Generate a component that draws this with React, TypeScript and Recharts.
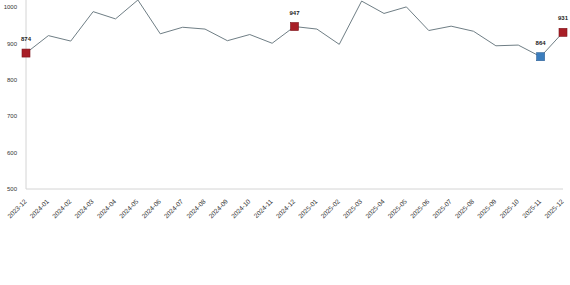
import React from 'react';
import { LineChart, Line, XAxis, YAxis } from 'recharts';

const months = [
  '2023-12', '2024-01', '2024-02', '2024-03', '2024-04', '2024-05', '2024-06',
  '2024-07', '2024-08', '2024-09', '2024-10', '2024-11', '2024-12', '2025-01',
  '2025-02', '2025-03', '2025-04', '2025-05', '2025-06', '2025-07', '2025-08',
  '2025-09', '2025-10', '2025-11', '2025-12',
];

const values = [
  874, 922, 907, 988, 968, 1020, 927, 945, 940, 908, 925, 901, 947, 940,
  898, 1017, 983, 1001, 936, 948, 934, 894, 896, 864, 931,
];

const yTicks = [500, 600, 700, 800, 900, 1000];

const redMarkers = ['2023-12', '2024-12', '2025-12'];
const blueMarkers = ['2025-11'];

const data = months.map((m, i) => ({ month: m, value: values[i] }));

const FONT = '"Liberation Sans", Arial, sans-serif';

const XTick = (props: any) => {
  const { x, y, payload } = props;
  return (
    <g transform={`translate(${x + 1},${y + 11})`}>
      <text
        x={0}
        y={0}
        textAnchor="end"
        fontSize={6.5}
        fill="#333"
        fontFamily={FONT}
        transform="rotate(-45)"
      >
        {payload.value}
      </text>
    </g>
  );
};

const renderDot = (props: any) => {
  const { cx, cy, payload, index } = props;
  const m = payload.month;
  let fill = '';
  let stroke = '';
  if (redMarkers.includes(m)) {
    fill = '#a81e26';
    stroke = '#7c1218';
  } else if (blueMarkers.includes(m)) {
    fill = '#3b7dbd';
    stroke = '#2d6298';
  }
  if (!fill) return <g key={`d${index}`} />;
  return (
    <rect
      key={`d${index}`}
      x={cx - 4}
      y={cy - 4}
      width={8}
      height={8}
      fill={fill}
      stroke={stroke}
      strokeWidth={0.6}
    />
  );
};

const renderLabel = (props: any) => {
  const { x, y, index, value } = props;
  const m = months[index];
  if (!redMarkers.includes(m) && !blueMarkers.includes(m)) return <g key={`l${index}`} />;
  return (
    <text
      key={`l${index}`}
      x={x}
      y={y - 12}
      textAnchor="middle"
      fontSize={6}
      fontWeight="bold"
      fill="#222"
      fontFamily={FONT}
    >
      {value}
    </text>
  );
};

export default function App() {
  return (
    <div style={{ position: 'absolute', left: 0, top: 0, width: 570, height: 285, background: '#fff' }}>
      <LineChart
        width={570}
        height={285}
        data={data}
        margin={{ top: 0, right: 7, bottom: 36, left: 0 }}
      >
        <XAxis
          dataKey="month"
          height={60}
          interval={0}
          tickLine={false}
          tickSize={0}
          axisLine={{ stroke: '#d4d4d4' }}
          tick={<XTick />}
        />
        <YAxis
          width={26}
          domain={[500, 1020]}
          ticks={yTicks}
          tickLine={false}
          tickSize={0}
          tickMargin={9}
          axisLine={{ stroke: '#d4d4d4' }}
          tick={{ fontSize: 6, fill: '#333', fontFamily: FONT }}
          allowDataOverflow
        />
        <Line
          type="linear"
          dataKey="value"
          stroke="#6f7e85"
          strokeWidth={1}
          dot={renderDot}
          activeDot={false}
          label={renderLabel}
          isAnimationActive={false}
        />
      </LineChart>
    </div>
  );
}
